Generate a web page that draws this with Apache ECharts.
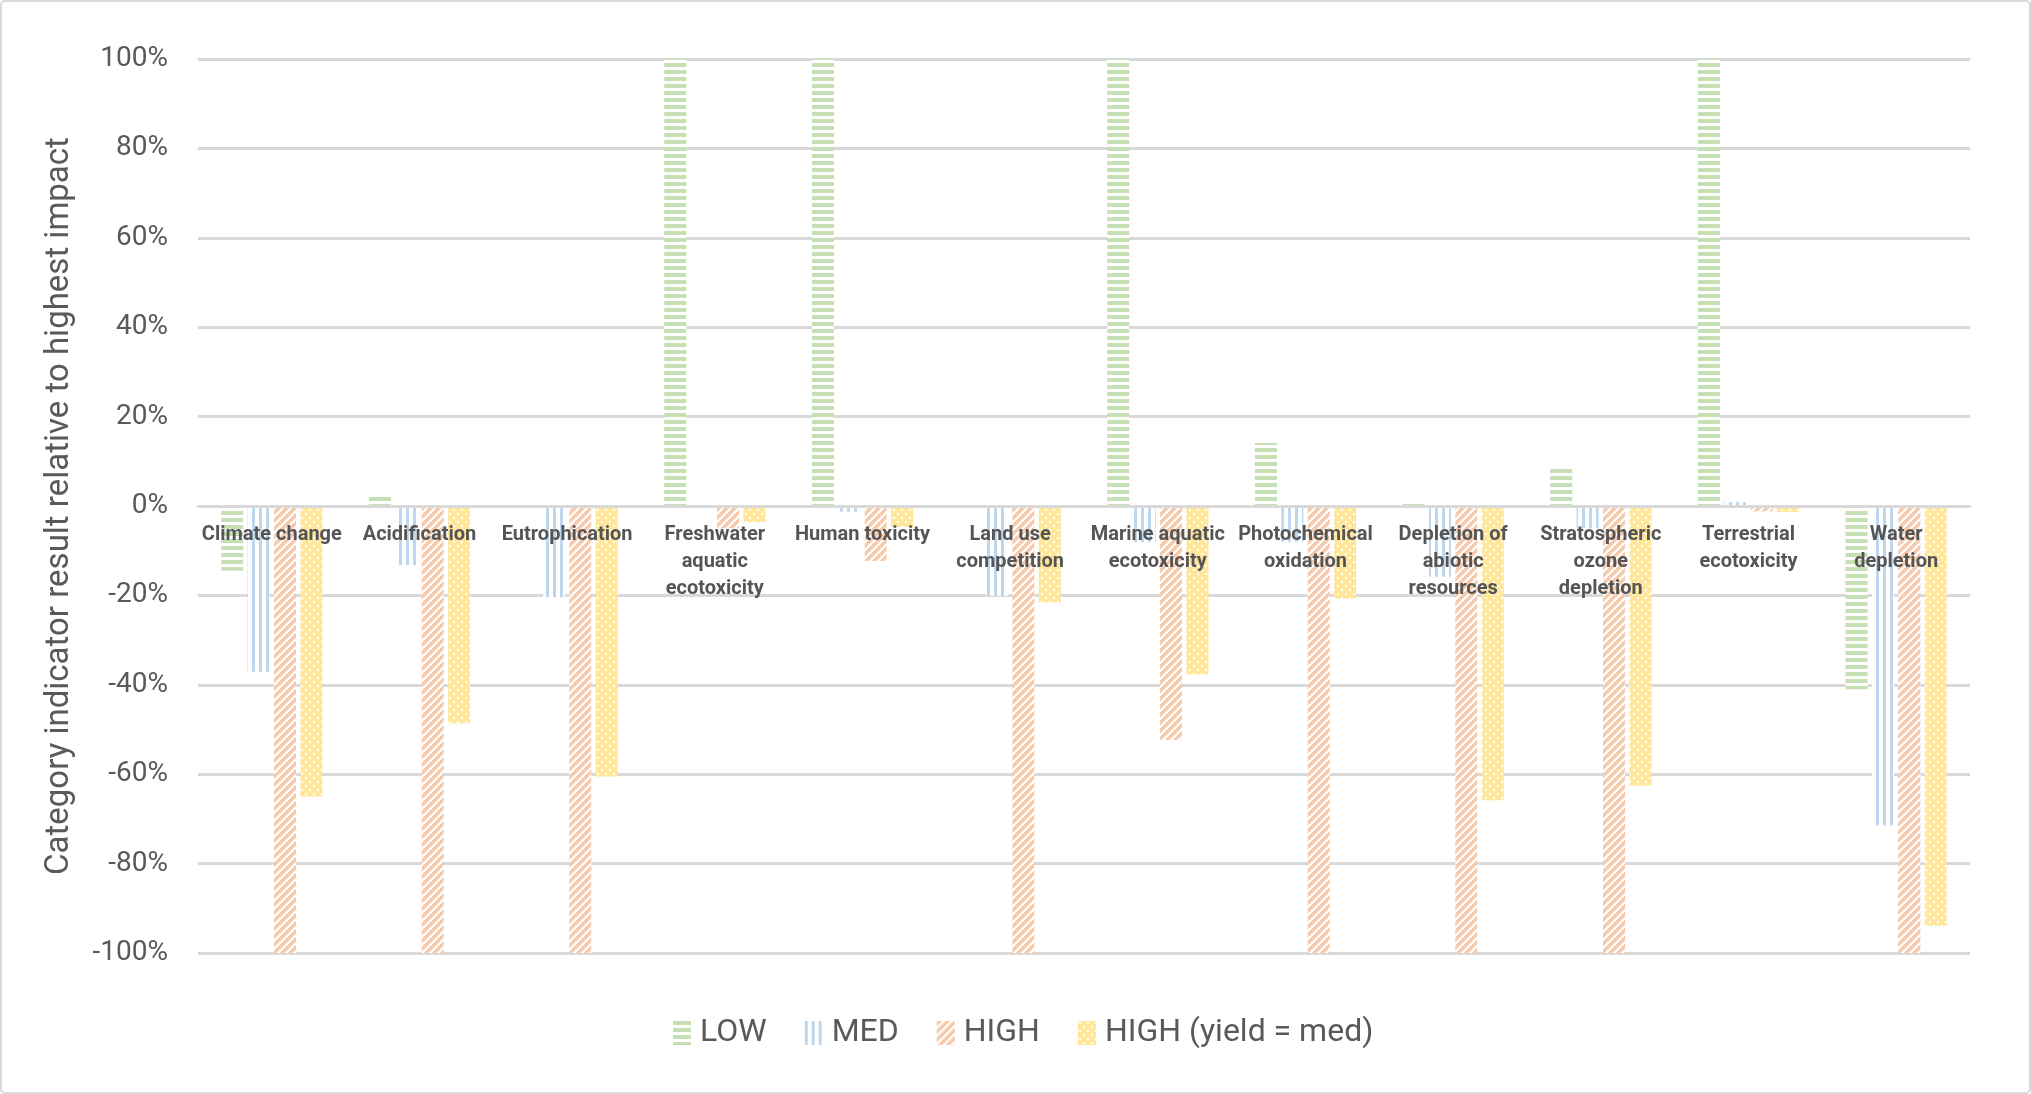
<!DOCTYPE html>
<html>
<head>
<meta charset="utf-8">
<script src="https://cdn.jsdelivr.net/npm/echarts@6/dist/echarts.min.js"></script>
<style>
html,body{margin:0;padding:0;background:#fff;}
#chart{width:2031px;height:1094px;}
</style>
</head>
<body>
<div id="chart"></div>
<script>
const categories = ['Climate change', 'Acidification', 'Eutrophication', 'Freshwater\naquatic\necotoxicity', 'Human toxicity', 'Land use\ncompetition', 'Marine aquatic\necotoxicity', 'Photochemical\noxidation', 'Depletion of\nabiotic\nresources', 'Stratospheric\nozone\ndepletion', 'Terrestrial\necotoxicity', 'Water\ndepletion'];
const seriesNames = ['LOW', 'MED', 'HIGH', 'HIGH (yield = med)'];
const lowValues = [-14.5, 2.7, -1.0, 100, 100, 0, 100, 14.1, 0.6, 8.6, 100, -41.0];
const medValues = [-37.1, -13.2, -20.4, 0, -1.3, -20.1, -8.1, -8.0, -15.8, -5.0, 0.9, -71.5];
const highValues = [-100, -100, -100, -5.0, -12.3, -100, -52.3, -100, -100, -100, -1.2, -100];
const yieldMedValues = [-65.0, -48.6, -60.5, -3.6, -4.7, -21.6, -37.7, -20.7, -65.8, -62.6, -1.3, -93.9];
const yTicks = [-100, -80, -60, -40, -20, 0, 20, 40, 60, 80, 100];

function makePattern(w, h, color, fn) {
  const c = document.createElement('canvas');
  c.width = w; c.height = h;
  const ctx = c.getContext('2d');
  ctx.fillStyle = '#ffffff';
  ctx.fillRect(0, 0, w, h);
  ctx.fillStyle = color;
  for (let y = 0; y < h; y++) {
    for (let x = 0; x < w; x++) {
      if (fn(x, y)) ctx.fillRect(x, y, 1, 1);
    }
  }
  return { image: c, repeat: 'repeat' };
}

const patLow = makePattern(7, 7, '#c5e0b4', (x, y) => y < 4);
const patMed = makePattern(7, 7, '#bdd7ee', (x, y) => x < 3);
const patHigh = makePattern(8, 8, '#f8cbad', (x, y) => ((x + y) % 8) < 5);
const patYield = makePattern(8, 8, '#ffe699', (x, y) => !((x >= 1 && x <= 2 && y >= 1 && y <= 2) || (x >= 5 && x <= 6 && y >= 5 && y <= 6)));

const pats = [patLow, patMed, patHigh, patYield];
const dataSets = [lowValues, medValues, highValues, yieldMedValues];

const chart = echarts.init(document.getElementById('chart'), null, { renderer: 'canvas' });

const font = 'Roboto';
const gridTop = 59, gridBottom = 141, plotH = 1094 - gridTop - gridBottom;
const option = {
  backgroundColor: '#ffffff',
  animation: false,
  graphic: [{
    type: 'rect',
    shape: { x: 1, y: 1, width: 2029, height: 1092, r: 4 },
    style: { fill: 'none', stroke: '#d9d9d9', lineWidth: 2 },
    silent: true
  }],
  legend: {
    data: seriesNames,
    left: 668,
    top: 1012,
    icon: 'rect',
    itemWidth: 18,
    itemHeight: 24,
    itemGap: 38,
    textStyle: { fontFamily: font, fontSize: 32, color: '#595959', padding: [0, 0, 0, 4] }
  },
  grid: { left: 198, right: 61, top: gridTop, bottom: gridBottom, containLabel: false },
  xAxis: {
    type: 'category',
    data: categories,
    z: 10,
    position: 'bottom',
    offset: -plotH / 2,
    axisLine: { show: true, onZero: false, lineStyle: { color: '#d9d9d9', width: 3 } },
    axisTick: { show: false },
    axisLabel: {
      interval: 0,
      margin: 15,
      fontFamily: font,
      fontWeight: 'bold',
      fontSize: 20,
      lineHeight: 27,
      color: '#555555'
    },
    splitLine: { show: false }
  },
  yAxis: {
    type: 'value',
    min: -100,
    max: 100,
    interval: 20,
    name: 'Category indicator result relative to highest impact',
    nameLocation: 'middle',
    nameGap: 122,
    nameTextStyle: { fontFamily: font, fontSize: 33, color: '#595959' },
    axisLine: { show: false },
    axisTick: { show: false },
    axisLabel: {
      margin: 30,
      fontFamily: font,
      fontSize: 28,
      color: '#595959',
      formatter: v => v + '%'
    },
    splitLine: { lineStyle: { color: '#d9d9d9', width: 3 } }
  },
  series: seriesNames.map((name, i) => ({
    name: name,
    type: 'bar',
    data: dataSets[i],
    barWidth: 22,
    barGap: '20%',
    itemStyle: { color: pats[i] }
  }))
};
chart.setOption(option);
</script>
</body>
</html>
